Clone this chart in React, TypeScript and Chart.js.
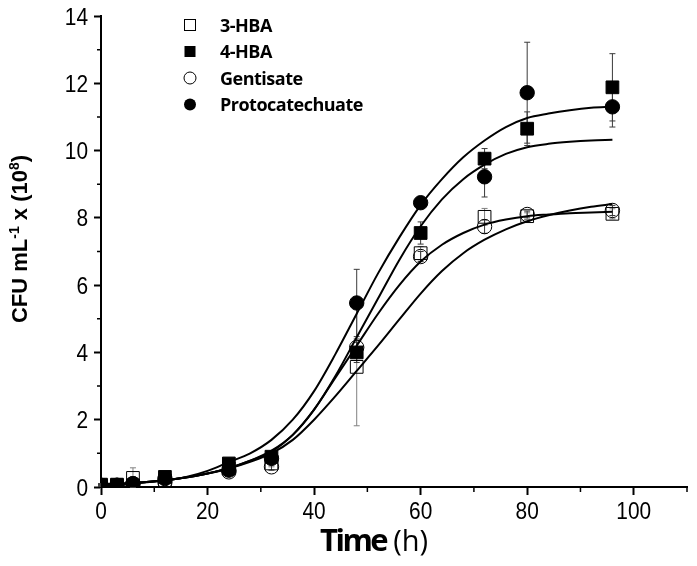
import React, { useEffect, useRef } from "react";
import { Chart, registerables } from "chart.js";
Chart.register(...registerables);

const seriesNames = ["3-HBA", "4-HBA", "Gentisate", "Protocatechuate"];
const sampleTimes = [0, 3, 6, 12, 24, 32, 48, 60, 72, 80, 96];

const hba3Values = [0.05, 0.05, 0.27, 0.2, 0.55, 0.7, 3.57, 6.95, 8.03, 8.05, 8.12];
const hba3Errors = [0.03, 0.03, 0.3, 0.05, 0.08, 0.1, 1.75, 0.2, 0.25, 0.1, 0.15];
const hba4Values = [0.07, 0.07, 0.05, 0.3, 0.7, 0.9, 4.0, 7.55, 9.76, 10.65, 11.88];
const hba4Errors = [0.03, 0.03, 0.03, 0.08, 0.1, 0.1, 0.3, 0.33, 0.3, 0.5, 1.0];
const gentValues = [0.05, 0.05, 0.1, 0.15, 0.45, 0.6, 4.15, 6.85, 7.74, 8.1, 8.22];
const gentErrors = [0.03, 0.03, 0.05, 0.05, 0.08, 0.1, 0.25, 0.15, 0.2, 0.1, 0.15];
const protoValues = [0.05, 0.05, 0.1, 0.25, 0.5, 0.85, 5.47, 8.45, 9.22, 11.72, 11.3];
const protoErrors = [0.03, 0.03, 0.05, 0.05, 0.08, 0.1, 1.0, 0.15, 0.6, 1.5, 0.6];

const fitTimes = [0, 4, 8, 12, 16, 20, 24, 28, 32, 36, 40, 44, 48, 52, 56, 60, 64, 68, 72, 76, 80, 84, 88, 92, 96];
const fitHba3 = [0.07, 0.1, 0.14, 0.2, 0.28, 0.4, 0.55, 0.75, 1.0, 1.4, 2.0, 2.7, 3.45, 4.2, 4.98, 5.75, 6.42, 6.95, 7.35, 7.66, 7.9, 8.08, 8.22, 8.33, 8.41];
const fitHba4 = [0.07, 0.1, 0.14, 0.2, 0.29, 0.4, 0.56, 0.78, 1.08, 1.55, 2.3, 3.3, 4.45, 5.6, 6.75, 7.75, 8.55, 9.15, 9.58, 9.9, 10.1, 10.2, 10.26, 10.3, 10.32];
const fitGent = [0.07, 0.1, 0.14, 0.2, 0.28, 0.4, 0.56, 0.78, 1.05, 1.55, 2.3, 3.25, 4.2, 5.15, 6.0, 6.7, 7.2, 7.55, 7.8, 7.95, 8.05, 8.1, 8.14, 8.16, 8.18];
const fitProto = [0.05, 0.08, 0.13, 0.2, 0.3, 0.48, 0.74, 1.0, 1.4, 2.0, 2.85, 3.95, 5.15, 6.35, 7.42, 8.38, 9.15, 9.8, 10.3, 10.7, 10.97, 11.1, 11.2, 11.27, 11.3];

const xTicks = [0, 20, 40, 60, 80, 100];
const xMinorTicks = [10, 30, 50, 70, 90, 110];
const yTicks = [0, 2, 4, 6, 8, 10, 12, 14];
const yMinorTicks = [1, 3, 5, 7, 9, 11, 13];

const pointSeries = [
  { name: seriesNames[0], values: hba3Values, errors: hba3Errors, style: "rect", filled: false, order: 4 },
  { name: seriesNames[1], values: hba4Values, errors: hba4Errors, style: "rect", filled: true, order: 3 },
  { name: seriesNames[2], values: gentValues, errors: gentErrors, style: "circle", filled: false, order: 2 },
  { name: seriesNames[3], values: protoValues, errors: protoErrors, style: "circle", filled: true, order: 1 },
];
const fitSeries = [fitHba3, fitHba4, fitGent, fitProto];

function drawSqueezed(ctx: CanvasRenderingContext2D, text: string, x: number, y: number, font: string, align: "left" | "right" | "center", sx: number) {
  ctx.save();
  ctx.font = font;
  ctx.textBaseline = "alphabetic";
  ctx.textAlign = "left";
  const w = ctx.measureText(text).width * sx;
  let x0 = x;
  if (align === "right") x0 = x - w;
  else if (align === "center") x0 = x - w / 2;
  ctx.translate(x0, y);
  ctx.scale(sx, 1);
  ctx.fillText(text, 0, 0);
  ctx.restore();
  return w;
}

const decorPlugin = {
  id: "decor",
  beforeDatasetsDraw(chart: any) {
    const ctx = chart.ctx as CanvasRenderingContext2D;
    const xs = chart.scales.x;
    const ys = chart.scales.y;
    ctx.save();
    ctx.lineWidth = 1;
    pointSeries.forEach((s, si) => {
      ctx.strokeStyle = si === 0 ? "#808080" : "#3a3a3a";
      sampleTimes.forEach((t, i) => {
        const e = s.errors[i];
        const px = xs.getPixelForValue(t);
        const top = ys.getPixelForValue(s.values[i] + e);
        const bot = ys.getPixelForValue(Math.max(0, s.values[i] - e));
        ctx.beginPath();
        ctx.moveTo(px, top);
        ctx.lineTo(px, bot);
        ctx.moveTo(px - 3, top);
        ctx.lineTo(px + 3, top);
        ctx.moveTo(px - 3, bot);
        ctx.lineTo(px + 3, bot);
        ctx.stroke();
      });
    });
    ctx.restore();
  },
  afterDraw(chart: any) {
    const ctx = chart.ctx as CanvasRenderingContext2D;
    const xs = chart.scales.x;
    const ys = chart.scales.y;
    const area = chart.chartArea;
    ctx.save();
    ctx.strokeStyle = "#000";
    ctx.fillStyle = "#000";
    ctx.lineWidth = 1.5;
    // minor ticks
    ctx.beginPath();
    yMinorTicks.forEach((v) => {
      const py = ys.getPixelForValue(v);
      ctx.moveTo(area.left, py);
      ctx.lineTo(area.left - 4, py);
    });
    xMinorTicks.forEach((v) => {
      const px = xs.getPixelForValue(v);
      ctx.moveTo(px, area.bottom);
      ctx.lineTo(px, area.bottom + 5);
    });
    ctx.stroke();

    // tick labels
    const tickFont = '24px "Liberation Sans", Arial, sans-serif';
    yTicks.forEach((v) => {
      const py = ys.getPixelForValue(v);
      drawSqueezed(ctx, String(v), area.left - 13, py + 8.6, tickFont, "right", 0.87);
    });
    xTicks.forEach((v) => {
      const px = xs.getPixelForValue(v);
      drawSqueezed(ctx, String(v), px, area.bottom + 32, tickFont, "center", 0.87);
    });

    // x title
    ctx.save();
    ctx.font = 'bold 31px "Open Sans", sans-serif';
    (ctx as any).letterSpacing = "-2.5px";
    ctx.textBaseline = "alphabetic";
    ctx.textAlign = "left";
    const tw = ctx.measureText("Time").width;
    ctx.fillText("Time", 320, 551);
    (ctx as any).letterSpacing = "0px";
    ctx.font = '29px "Open Sans", sans-serif';
    ctx.fillText("(h)", 320 + tw + 7, 551);
    ctx.restore();

    // y title (rotated)
    ctx.save();
    ctx.translate(27, 239);
    ctx.rotate(-Math.PI / 2);
    const mainFont = 'bold 22px "Liberation Sans", Arial, sans-serif';
    const supFont = 'bold 14px "Liberation Sans", Arial, sans-serif';
    const segs = [
      { t: "CFU mL", sup: false },
      { t: "-1", sup: true },
      { t: " x (10", sup: false },
      { t: "8", sup: true },
      { t: ")", sup: false },
    ];
    let total = 0;
    segs.forEach((s) => {
      ctx.font = s.sup ? supFont : mainFont;
      total += ctx.measureText(s.t).width;
    });
    let cx = -total / 2;
    ctx.textBaseline = "alphabetic";
    ctx.textAlign = "left";
    segs.forEach((s) => {
      ctx.font = s.sup ? supFont : mainFont;
      ctx.fillText(s.t, cx, s.sup ? -8 : 0);
      cx += ctx.measureText(s.t).width;
    });
    ctx.restore();

    // legend
    const rowYs = [25, 51.5, 78, 104.5];
    pointSeries.forEach((s, i) => {
      const y = rowYs[i];
      const mx = 190;
      ctx.lineWidth = 1;
      ctx.strokeStyle = "#000";
      ctx.fillStyle = "#000";
      if (s.style === "rect") {
        if (s.filled) ctx.fillRect(mx - 5.5, y - 5.5, 11, 11);
        else ctx.strokeRect(mx - 5.5, y - 5.5, 11, 11);
      } else {
        ctx.beginPath();
        ctx.arc(mx, y, 6, 0, Math.PI * 2);
        if (s.filled) ctx.fill();
        else ctx.stroke();
      }
      ctx.font = 'bold 18px "Open Sans", sans-serif';
      (ctx as any).letterSpacing = "-0.5px";
      ctx.textBaseline = "alphabetic";
      ctx.textAlign = "left";
      ctx.fillText(s.name, 220, y + 6.5);
      (ctx as any).letterSpacing = "0px";
    });
    ctx.restore();
  },
};

export default function App() {
  const canvasRef = useRef<HTMLCanvasElement | null>(null);

  useEffect(() => {
    if (!canvasRef.current) return;
    const datasets: any[] = [];
    pointSeries.forEach((s) => {
      datasets.push({
        label: s.name,
        data: sampleTimes.map((t, i) => ({ x: t, y: s.values[i] })),
        showLine: false,
        pointStyle: s.style,
        pointRadius: s.style === "rect" ? 9 : 7.2,
        pointBorderWidth: 1,
        pointBorderColor: "#000",
        pointBackgroundColor: s.filled ? "#000" : "rgba(255,255,255,0)",
        order: s.order,
      });
    });
    fitSeries.forEach((f, k) => {
      datasets.push({
        label: seriesNames[k] + " fit",
        data: fitTimes.map((t, i) => ({ x: t, y: f[i] })),
        showLine: true,
        borderColor: "#000",
        borderWidth: 2,
        pointRadius: 0,
        cubicInterpolationMode: "monotone",
        fill: false,
        order: 10,
      });
    });

    const chart = new Chart(canvasRef.current, {
      type: "scatter",
      data: { datasets },
      options: {
        responsive: false,
        animation: false,
        layout: { padding: { top: 16, right: 9, left: 0, bottom: 0 } },
        plugins: { legend: { display: false }, tooltip: { enabled: false } },
        scales: {
          x: {
            type: "linear",
            min: 0,
            max: 110,
            afterBuildTicks: (s: any) => {
              s.ticks = xTicks.map((v) => ({ value: v }));
            },
            afterFit: (s: any) => {
              s.height = 79;
            },
            ticks: { display: false },
            grid: { drawOnChartArea: false, drawTicks: true, tickLength: 8, tickWidth: 2, tickColor: "#000" },
            border: { display: true, color: "#000", width: 2 },
          },
          y: {
            type: "linear",
            min: 0,
            max: 14,
            afterBuildTicks: (s: any) => {
              s.ticks = yTicks.map((v) => ({ value: v }));
            },
            afterFit: (s: any) => {
              s.width = 101;
            },
            ticks: { display: false },
            grid: { drawOnChartArea: false, drawTicks: true, tickLength: 7, tickWidth: 2, tickColor: "#000" },
            border: { display: true, color: "#000", width: 2 },
          },
        },
      },
      plugins: [decorPlugin],
    } as any);
    return () => chart.destroy();
  }, []);

  return (
    <div style={{ position: "absolute", left: 0, top: 0, width: 697, height: 566, background: "#fff" }}>
      <canvas ref={canvasRef} width={697} height={566} style={{ display: "block" }} />
    </div>
  );
}
